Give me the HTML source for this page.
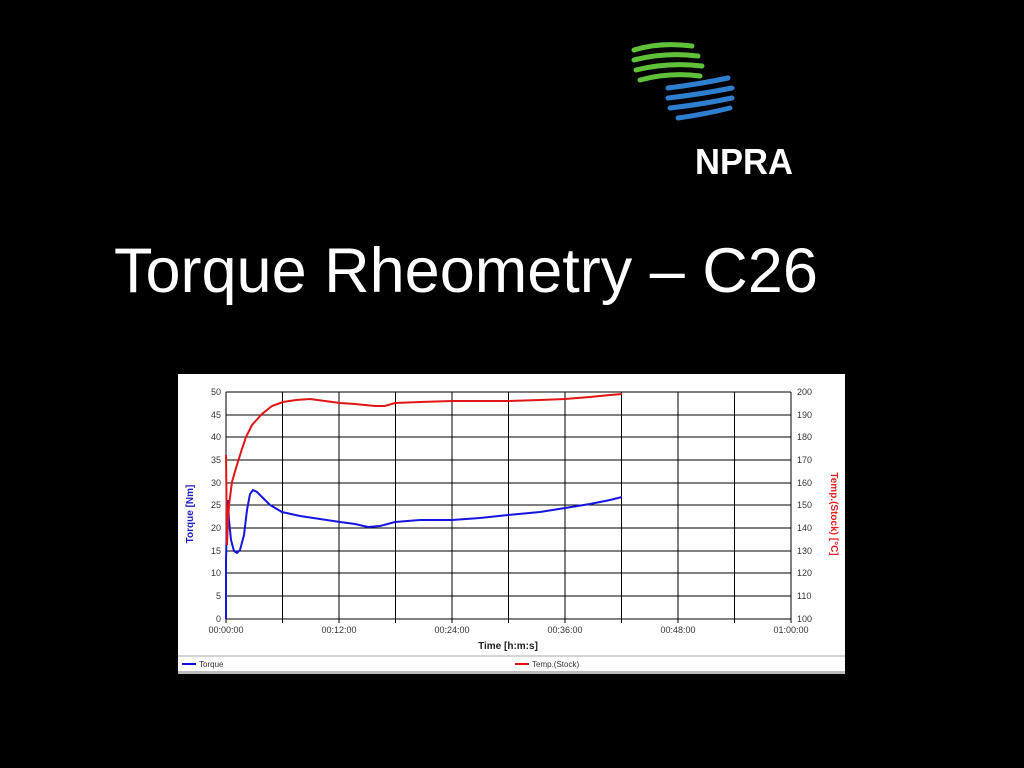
<!DOCTYPE html>
<html><head><meta charset="utf-8"><style>
body{margin:0;width:1024px;height:768px;background:#000;overflow:hidden;position:relative;font-family:"Liberation Sans",sans-serif}
h1{position:absolute;left:114px;top:233px;margin:0;color:#fff;font-weight:normal;font-size:63px;line-height:76px;white-space:nowrap}
</style></head><body>
<svg width="1024" height="768" style="position:absolute;left:0;top:0">
<g fill="none" stroke-linecap="round">
<g stroke="#5fc23a" stroke-width="5">
<path d="M634 50 Q660 42 692 46"/><path d="M634 60 Q665 52 698 56"/><path d="M636 70 Q668 62 702 66"/><path d="M640 80 Q670 72 700 76"/>
</g>
<g stroke="#2f7fd0" stroke-width="5">
<path d="M668 88 Q700 84 728 78"/><path d="M668 98 Q702 94 732 88"/><path d="M670 108 Q704 104 732 98"/><path d="M678 118 Q706 114 730 108"/>
</g></g>
<text x="695" y="174" fill="#fff" font-family="Liberation Sans" font-weight="bold" font-size="36" textLength="98" lengthAdjust="spacingAndGlyphs">NPRA</text>
<rect x="178" y="374" width="667" height="300" fill="#fff"/>
<line x1="178" y1="656" x2="845" y2="656" stroke="#aaa"/>
<rect x="178" y="671" width="667" height="3" fill="#bbb"/>
<g stroke="#000" stroke-width="1">
<line x1="226" y1="392" x2="791" y2="392"/><line x1="226" y1="415" x2="791" y2="415"/><line x1="226" y1="437" x2="791" y2="437"/><line x1="226" y1="460" x2="791" y2="460"/><line x1="226" y1="483" x2="791" y2="483"/><line x1="226" y1="505" x2="791" y2="505"/><line x1="226" y1="528" x2="791" y2="528"/><line x1="226" y1="551" x2="791" y2="551"/><line x1="226" y1="573" x2="791" y2="573"/><line x1="226" y1="596" x2="791" y2="596"/><line x1="226" y1="619" x2="791" y2="619"/>
<line x1="226" y1="392" x2="226" y2="623"/><line x1="282.5" y1="392" x2="282.5" y2="623"/><line x1="339" y1="392" x2="339" y2="623"/><line x1="395.5" y1="392" x2="395.5" y2="623"/><line x1="452" y1="392" x2="452" y2="623"/><line x1="508.5" y1="392" x2="508.5" y2="623"/><line x1="565" y1="392" x2="565" y2="623"/><line x1="621.5" y1="392" x2="621.5" y2="623"/><line x1="678" y1="392" x2="678" y2="623"/><line x1="734.5" y1="392" x2="734.5" y2="623"/><line x1="791" y1="392" x2="791" y2="623"/>
</g>
<g font-family="Liberation Sans" font-size="9" fill="#333" text-anchor="end">
<text x="221" y="395">50</text><text x="221" y="418">45</text><text x="221" y="440">40</text><text x="221" y="463">35</text><text x="221" y="486">30</text><text x="221" y="508">25</text><text x="221" y="531">20</text><text x="221" y="554">15</text><text x="221" y="576">10</text><text x="221" y="599">5</text><text x="221" y="622">0</text>
</g>
<g font-family="Liberation Sans" font-size="9" fill="#333">
<text x="797" y="395">200</text><text x="797" y="418">190</text><text x="797" y="440">180</text><text x="797" y="463">170</text><text x="797" y="486">160</text><text x="797" y="508">150</text><text x="797" y="531">140</text><text x="797" y="554">130</text><text x="797" y="576">120</text><text x="797" y="599">110</text><text x="797" y="622">100</text>
</g>
<g font-family="Liberation Sans" font-size="9" fill="#333" text-anchor="middle">
<text x="226" y="633">00:00:00</text><text x="339" y="633">00:12:00</text><text x="452" y="633">00:24:00</text><text x="565" y="633">00:36:00</text><text x="678" y="633">00:48:00</text><text x="791" y="633">01:00:00</text>
</g>
<text x="508" y="649" font-family="Liberation Sans" font-size="10" font-weight="bold" fill="#222" text-anchor="middle">Time [h:m:s]</text>
<text transform="translate(193,514) rotate(-90)" font-family="Liberation Sans" font-size="10" font-weight="bold" fill="#2020c0" text-anchor="middle">Torque [Nm]</text>
<text transform="translate(831,514) rotate(90)" font-family="Liberation Sans" font-size="10" font-weight="bold" fill="#e02020" text-anchor="middle">Temp.(Stock) [°C]</text>
<line x1="182" y1="664" x2="196" y2="664" stroke="#1010e0" stroke-width="2"/>
<text x="199" y="667" font-family="Liberation Sans" font-size="8" fill="#333">Torque</text>
<line x1="515" y1="664" x2="529" y2="664" stroke="#e01010" stroke-width="2"/>
<text x="532" y="667" font-family="Liberation Sans" font-size="8" fill="#333">Temp.(Stock)</text>
<polyline fill="none" stroke="#1515e0" stroke-width="2" points="226,619 226,560 227,520 228,500 229,520 231,540 234,551 237,553 240,550 244,535 247,510 250,494 253,490 257,492 263,498 270,505 282,512 300,516 320,519 340,522 355,524 368,527 380,526 395,522 420,520 452,520 480,518 508,515 540,512 565,508 590,504 610,500 622,497"/>
<polyline fill="none" stroke="#e01515" stroke-width="2" points="226,455 227,545 228,520 229,505 232,482 236,468 241,452 246,437 252,425 262,414 272,406 283,402 296,400 310,399 325,401 340,403 355,404 375,406 385,406 395,403 420,402 452,401 480,401 508,401 540,400 565,399 590,397 610,395 622,394"/>
</svg>
<h1>Torque Rheometry – C26</h1>
</body></html>
